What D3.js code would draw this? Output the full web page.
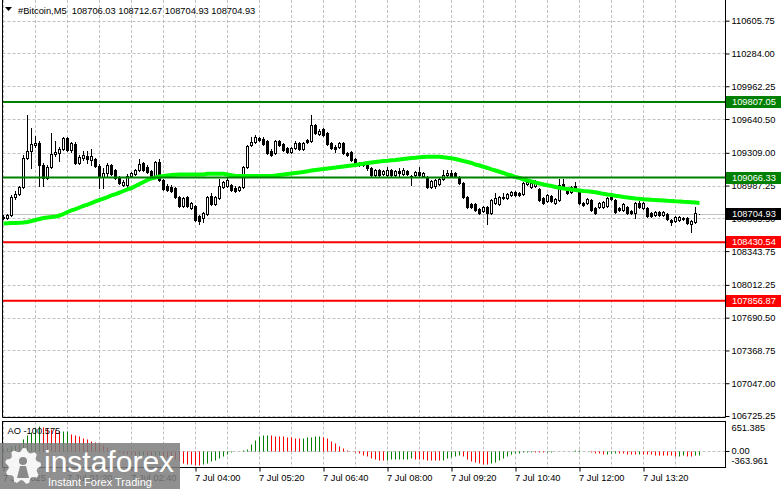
<!DOCTYPE html>
<html><head><meta charset="utf-8">
<script src="https://cdn.jsdelivr.net/npm/d3@7"></script>
<style>
html,body{margin:0;padding:0;background:#fff;overflow:hidden;}
svg{display:block;font-family:"Liberation Sans",Arial,sans-serif;}
text{white-space:pre;}
</style></head><body>
<svg id="c" width="781" height="489"></svg>
<script>
const symbolName = "#Bitcoin,M5";
const lastOHLC = [108706.03, 108712.67, 108704.93, 108704.93];

const open = [108683,108669,108698,108875,108904,108973,109258,109327,109386,109405,
109189,109062,109169,109297,109307,109346,109454,109336,109395,109209,
109258,109277,109238,109248,109179,109071,109111,109189,109140,109071,
108993,108993,109081,109101,109140,109209,109169,109130,109081,109219,
109042,108983,108973,108963,108875,108787,108875,108767,108787,108688,
108669,108708,108885,108806,108865,108973,108983,108993,108963,108944,
108973,109169,109386,109415,109454,109444,109425,109327,109307,109425,
109395,109356,109317,109356,109405,109346,109435,109425,109582,109494,
109543,109503,109405,109366,109366,109405,109307,109317,109248,109209,
109189,109189,109160,109091,109140,109101,109091,109140,109091,109130,
109101,109130,109086,109091,109120,109081,109071,108973,108983,109003,
109052,109091,109111,109111,109071,109012,108875,108806,108806,108757,
108738,108777,108718,108816,108806,108865,108865,108895,108924,108914,
108904,109003,108973,108983,108954,108865,108836,108885,108816,108846,
109003,108963,108924,108983,108924,108816,108816,108846,108767,108777,
108777,108787,108875,108846,108767,108747,108777,108738,108718,108816,
108767,108767,108718,108698,108728,108698,108708,108649,108639,108649,
108669,108669,108610,108630,108706.03];

const high = [108698,108708,108895,108934,108983,109287,109680,109552,109474,109425,
109209,109189,109503,109425,109366,109464,109464,109415,109415,109287,
109327,109327,109346,109258,109199,109160,109209,109199,109150,109081,
109042,109101,109120,109150,109248,109219,109189,109140,109228,109248,
109052,109003,108993,108973,108885,108875,108885,108826,108797,108698,
108728,108885,108914,108885,109052,109032,109062,109003,108983,108983,
109179,109386,109464,109484,109464,109464,109435,109346,109435,109435,
109405,109366,109366,109425,109415,109415,109444,109680,109592,109543,
109552,109513,109415,109386,109415,109415,109317,109327,109258,109219,
109209,109199,109169,109150,109150,109140,109169,109150,109140,109160,
109160,109140,109091,109130,109169,109120,109081,109042,109052,109062,
109140,109140,109140,109120,109081,109022,108885,108816,108816,108767,
108787,108787,108855,108914,108885,108914,108914,108934,108934,108924,
109022,109042,109022,109042,108963,108875,108904,108895,108865,109052,
109052,108973,108983,109022,108934,108826,108865,108855,108777,108826,
108836,108875,108885,108855,108777,108816,108787,108747,108826,108836,
108826,108777,108728,108738,108738,108738,108718,108659,108688,108688,
108679,108679,108649,108777,108712.67];

const low = [108659,108659,108688,108855,108895,108963,109248,109160,109366,108983,
108983,109052,109160,109277,109228,109336,109327,109317,109199,109199,
109238,109209,109189,109169,108963,108963,109081,109091,109052,109003,
108983,108963,109071,109091,109130,109130,109111,109071,109071,109032,
108944,108934,108924,108865,108777,108777,108777,108757,108639,108610,
108630,108698,108797,108797,108855,108963,108973,108934,108924,108934,
108963,109160,109376,109405,109425,109386,109297,109277,109297,109376,
109327,109307,109307,109346,109336,109336,109405,109415,109494,109484,
109474,109386,109346,109317,109356,109297,109277,109228,109189,109179,
109179,109140,109081,109081,109081,109091,109081,109081,109081,109081,
109091,109091,108993,109081,109081,109071,108963,108963,108963,108993,
109042,109081,109071,109071,109003,108865,108767,108767,108738,108708,
108728,108610,108708,108806,108797,108855,108855,108885,108885,108885,
108895,108993,108963,108973,108836,108806,108826,108826,108806,108836,
108963,108904,108914,108954,108806,108787,108806,108738,108708,108767,
108767,108777,108846,108718,108738,108738,108708,108708,108669,108767,
108757,108679,108679,108688,108688,108688,108649,108600,108630,108639,
108649,108610,108531,108620,108704.93];

const close = [108669,108698,108875,108904,108973,109258,109327,109395,109405,109189,
109062,109169,109297,109317,109346,109454,109336,109405,109209,109268,
109287,109248,109277,109179,109071,109111,109189,109101,109062,109012,
109022,109081,109111,109140,109199,109140,109120,109081,109219,109042,
108954,108944,108934,108875,108787,108865,108787,108816,108649,108639,
108718,108875,108806,108875,108983,109022,109042,108944,108934,108973,
109169,109376,109415,109464,109435,109395,109307,109287,109425,109386,
109336,109317,109356,109405,109346,109405,109415,109582,109503,109523,
109484,109395,109356,109346,109405,109307,109287,109238,109199,109189,
109199,109160,109091,109140,109091,109130,109140,109091,109130,109111,
109140,109101,109076,109120,109091,109111,108973,109032,109042,109052,
109091,109111,109081,109081,109012,108875,108777,108777,108747,108718,
108777,108718,108846,108865,108875,108875,108904,108924,108895,108895,
109012,109022,109012,109012,108846,108816,108895,108836,108855,108993,
108973,108914,108973,108963,108816,108797,108855,108747,108718,108816,
108826,108865,108855,108728,108747,108806,108718,108718,108816,108777,
108816,108688,108688,108728,108698,108728,108659,108630,108679,108679,
108659,108620,108639,108718,108704.93];

const maValues = [108615,108617,108620,108620,108622,108625,108630,108639,108649,108659,
108669,108674,108679,108683,108693,108708,108728,108743,108757,108772,
108787,108801,108816,108831,108846,108860,108875,108890,108904,108919,
108934,108949,108963,108983,109003,109022,109042,109057,109066,109076,
109081,109086,109091,109094,109096,109096,109096,109096,109096,109096,
109096,109103,109103,109103,109103,109103,109096,109088,109082,109082,
109082,109082,109082,109082,109082,109082,109082,109082,109086,109091,
109096,109101,109106,109111,109115,109120,109127,109135,109140,109145,
109150,109155,109160,109164,109169,109174,109179,109184,109189,109196,
109202,109209,109214,109219,109224,109228,109231,109235,109238,109243,
109248,109253,109258,109261,109265,109268,109270,109271,109271,109270,
109266,109261,109255,109248,109238,109228,109219,109209,109194,109184,
109172,109160,109147,109135,109123,109111,109096,109086,109071,109062,
109047,109037,109027,109017,109008,108998,108990,108983,108973,108965,
108958,108954,108949,108944,108939,108934,108931,108927,108921,108914,
108906,108900,108895,108888,108882,108875,108870,108865,108860,108857,
108853,108850,108847,108846,108844,108841,108838,108836,108833,108831,
108828,108826,108823,108820,108816];

const aoValues = [40,80,120,150,190,300,410,500,590,651.385,
620,590,565,540,520,525,530,450,420,380,
340,300,260,230,200,150,110,60,30,-20,
-60,-80,-100,-110,-100,-95,-100,-110,-105,-100,
-120,-150,-180,-220,-260,-300,-330,-350,-355,-363.961,
-340,-310,-270,-230,-180,-120,-70,-30,-10,10,
20,60,170,280,380,420,430,420,400,390,
380,370,360,350,340,345,360,375,380,385,
370,330,270,210,140,80,30,-10,-30,-60,
-100,-140,-170,-200,-225,-235,-225,-215,-210,-205,
-200,-195,-190,-195,-205,-215,-225,-232,-238,-242,
-225,-190,-150,-120,-100,-140,-200,-250,-290,-320,
-335,-345,-320,-280,-230,-180,-130,-90,-60,-45,
-35,-28,-22,-25,-28,-30,-24,-18,-12,-7,
-3,4,10,15,20,5,-10,-30,-45,-60,
-70,-65,-60,-55,-58,-62,-70,-75,-80,-78,
-80,-85,-90,-95,-100,-105,-110,-115,-120,-118,
-115,-120,-125,-110,-100.575];

const priceTicks = [110605.75,110284.00,109962.25,109640.50,109309.00,108987.25,108665.50,108343.75,108012.25,107690.50,107368.75,107047.00,106725.25];
const greenLevels = [109807.05, 109066.33];
const redLevels = [108430.54, 107856.87];
const currentPrice = 108704.93;
const aoScaleLabels = [651.385, 0, -363.961];
const aoLabel = "AO -100.575";
const timeTickBars = [0,16,32,48,64,80,96,112,128,144,160];
const timeTickLabels = ["7 Jul 2025","7 Jul 01:20","7 Jul 02:40","7 Jul 04:00","7 Jul 05:20","7 Jul 06:40","7 Jul 08:00","7 Jul 09:20","7 Jul 10:40","7 Jul 12:00","7 Jul 13:20"];
const gridBars = d3.range(0, 175, 8);
const brandName = "instaforex";
const brandTag = "Instant Forex Trading";

// ---------- layout ----------
const W = 781, H = 489;
const left = 2.5, axisX = 725.5;
const mainTop = 0, mainBottom = 417.5;
const aoTop = 421.5, aoBottom = 467.5;

const svg = d3.select("#c");
const x = d3.scaleLinear().domain([0, 174]).range([3.5, 699.5]);
const y = d3.scaleLinear().domain([106725.25, 110605.75]).range([416, 20.7]);
const yAo = d3.scaleLinear().domain([-363.961, 651.385]).range([465, 426]);
const GRID = "#c0c0c0";
const FS = 9.3;
const FF = "Liberation Sans, Arial, sans-serif";

// ---------- grid: main ----------
const g = svg.append("g");
g.selectAll("line.hg").data(priceTicks).enter().append("line")
  .attr("x1", left).attr("x2", axisX)
  .attr("y1", d => Math.round(y(d)) + 0.5).attr("y2", d => Math.round(y(d)) + 0.5)
  .attr("stroke", GRID).attr("stroke-dasharray", "3,2");
g.selectAll("line.vg").data(gridBars).enter().append("line")
  .attr("x1", d => x(d)).attr("x2", d => x(d))
  .attr("y1", mainTop).attr("y2", mainBottom)
  .attr("stroke", GRID).attr("stroke-dasharray", "3,2");
g.selectAll("line.vga").data(gridBars).enter().append("line")
  .attr("x1", d => x(d)).attr("x2", d => x(d))
  .attr("y1", aoTop).attr("y2", aoBottom)
  .attr("stroke", GRID).attr("stroke-dasharray", "3,2");
g.append("line").attr("x1", left).attr("x2", axisX)
  .attr("y1", Math.round(yAo(0)) + 0.5).attr("y2", Math.round(yAo(0)) + 0.5)
  .attr("stroke", GRID).attr("stroke-dasharray", "3,2");

// current price line
svg.append("line").attr("x1", left).attr("x2", axisX)
  .attr("y1", Math.round(y(currentPrice)) + 0.5).attr("y2", Math.round(y(currentPrice)) + 0.5)
  .attr("stroke", "#c0c0c0");

// ---------- candles ----------
const bars = d3.range(open.length).map(i => ({i, o: open[i], h: high[i], l: low[i], c: close[i]}));
const cg = svg.append("g");
cg.selectAll("line.wick").data(bars).enter().append("line")
  .attr("x1", d => x(d.i)).attr("x2", d => x(d.i))
  .attr("y1", d => Math.round(y(d.h))).attr("y2", d => Math.round(y(d.l)) + 1)
  .attr("stroke", "#000");
cg.selectAll("rect.body").data(bars).enter().append("rect")
  .attr("x", d => x(d.i) - 1)
  .attr("y", d => Math.round(y(Math.max(d.o, d.c))) + 0.5)
  .attr("width", 2)
  .attr("height", d => Math.max(0, Math.round(y(Math.min(d.o, d.c))) - Math.round(y(Math.max(d.o, d.c)))))
  .attr("fill", d => d.c >= d.o ? "#fff" : "#000")
  .attr("stroke", "#000");

// ---------- moving average ----------
svg.append("path").datum(maValues)
  .attr("d", d3.line().x((d, i) => x(i)).y(d => y(d)))
  .attr("fill", "none").attr("stroke", "#00ff00").attr("stroke-width", 4);

// ---------- level lines ----------
svg.selectAll("line.gl").data(greenLevels).enter().append("line")
  .attr("x1", left).attr("x2", axisX)
  .attr("y1", d => y(d)).attr("y2", d => y(d))
  .attr("stroke", "#008000").attr("stroke-width", 2);
svg.selectAll("line.rl").data(redLevels).enter().append("line")
  .attr("x1", left).attr("x2", axisX)
  .attr("y1", d => y(d)).attr("y2", d => y(d))
  .attr("stroke", "#ff0000").attr("stroke-width", 2);

// ---------- AO histogram ----------
svg.selectAll("line.ao").data(aoValues).enter().append("line")
  .attr("x1", (d, i) => x(i)).attr("x2", (d, i) => x(i))
  .attr("y1", Math.round(yAo(0)) + 0.5)
  .attr("y2", d => Math.round(yAo(d)) + 0.5)
  .attr("stroke", (d, i) => (i === 0 || d >= aoValues[i - 1]) ? "#008000" : "#ff0000");

// ---------- frames ----------
svg.append("line").attr("x1", left).attr("x2", left).attr("y1", 0).attr("y2", mainBottom).attr("stroke", "#000");
svg.append("line").attr("x1", left).attr("x2", axisX).attr("y1", mainBottom).attr("y2", mainBottom).attr("stroke", "#000");
svg.append("line").attr("x1", axisX).attr("x2", axisX).attr("y1", 0).attr("y2", mainBottom).attr("stroke", "#000");
svg.append("rect").attr("x", left).attr("y", aoTop).attr("width", axisX - left).attr("height", aoBottom - aoTop)
  .attr("fill", "none").attr("stroke", "#000");

// ---------- price axis ----------
const pa = svg.append("g").attr("transform", `translate(${axisX},0)`)
  .call(d3.axisRight(y).tickValues(priceTicks).tickSize(4).tickPadding(2).tickFormat(d => d.toFixed(2)));
pa.select(".domain").remove();
pa.selectAll("text").attr("font-size", FS).attr("font-family", FF).attr("fill", "#000");
pa.selectAll("line").attr("stroke", "#000");

// level labels
const levelBoxes = [
  ...greenLevels.map(v => ({v, col: "#008000"})),
  ...redLevels.map(v => ({v, col: "#ff0000"})),
  {v: currentPrice, col: "#000"}
];
const lb = svg.selectAll("g.lb").data(levelBoxes).enter().append("g")
  .attr("transform", d => `translate(${axisX + 0.5},${Math.round(y(d.v))})`);
lb.append("rect").attr("x", 0).attr("y", -6).attr("width", W - axisX).attr("height", 12).attr("fill", d => d.col);
lb.append("text").attr("x", 6).attr("y", 0).attr("dy", "0.35em")
  .attr("font-size", FS).attr("font-family", FF).attr("fill", "#fff").text(d => d.v.toFixed(2));

// ---------- AO axis labels ----------
svg.append("line").attr("x1", axisX).attr("x2", axisX + 4)
  .attr("y1", Math.round(yAo(0)) + 0.5).attr("y2", Math.round(yAo(0)) + 0.5).attr("stroke", "#000");
svg.selectAll("text.aol").data(aoScaleLabels).enter().append("text")
  .attr("x", axisX + 6)
  .attr("y", d => Math.min(Math.max(yAo(d), 428), 461))
  .attr("dy", "0.35em").attr("font-size", FS).attr("font-family", FF).attr("fill", "#000")
  .text(d => d === 0 ? "0.00" : d.toFixed(3));
svg.append("text").attr("x", 7.5).attr("y", 434).attr("font-size", FS).attr("font-family", FF).attr("fill", "#000").text(aoLabel);

// ---------- time axis ----------
const ta = svg.append("g").attr("transform", `translate(0,${aoBottom})`)
  .call(d3.axisBottom(x).tickValues(timeTickBars).tickSize(4).tickPadding(3)
    .tickFormat((d, i) => timeTickLabels[i]));
ta.select(".domain").remove();
ta.selectAll("line").attr("stroke", "#000");
ta.selectAll("text").attr("text-anchor", "start").attr("x", -1)
  .attr("font-size", FS).attr("font-family", FF).attr("fill", "#000");

// ---------- title ----------
svg.append("path").attr("d", "M5,7 L12,7 L8.5,11 Z").attr("fill", "#000");
svg.append("text").attr("x", 18).attr("y", 14).attr("font-size", FS).attr("font-family", FF).attr("fill", "#000")
  .text(symbolName + "  " + lastOHLC.map(v => v.toFixed(2)).join(" "));

// ---------- watermark ----------
const wm = svg.append("g");
wm.append("rect").attr("x", 0).attr("y", 443).attr("width", 180).attr("height", 46)
  .attr("fill", "#7c7c7c").attr("opacity", 0.85);
const gearC = [23, 466], rO = 18, rI = 14.5, teeth = 9;
const gearPts = [];
d3.range(teeth * 4).forEach(k => {
  const a = (k / (teeth * 4)) * 2 * Math.PI - Math.PI / 2;
  const r = (k % 4 === 0 || k % 4 === 1) ? rO : rI;
  gearPts.push([gearC[0] + r * Math.cos(a), gearC[1] + r * Math.sin(a)]);
});
wm.append("path").attr("d", d3.line().curve(d3.curveLinearClosed)(gearPts)).attr("fill", "#fff").attr("opacity", 0.92);
wm.append("circle").attr("cx", gearC[0]).attr("cy", gearC[1] - 5).attr("r", 4).attr("fill", "#8a8a8a");
wm.append("path").attr("d", `M${gearC[0]-6},${gearC[1]+12} L${gearC[0]-3},${gearC[1]} L${gearC[0]+3},${gearC[1]} L${gearC[0]+6},${gearC[1]+12} Z`).attr("fill", "#8a8a8a");
wm.append("text").attr("x", 44).attr("y", 472).attr("font-size", 30).attr("fill", "#fff")
  .attr("font-family", FF).text(brandName);
wm.append("text").attr("x", 48).attr("y", 486).attr("font-size", 11).attr("fill", "#fff")
  .attr("font-family", FF).text(brandTag);
</script>
</body></html>
